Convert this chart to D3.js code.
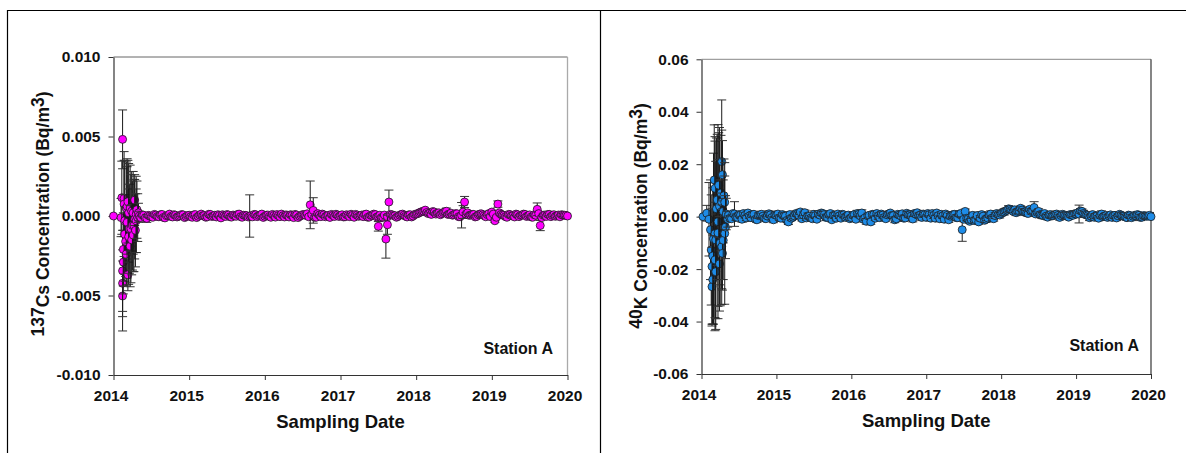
<!DOCTYPE html>
<html><head><meta charset="utf-8">
<script src="https://cdn.jsdelivr.net/npm/d3@7"></script>
<style>
body{margin:0;background:#fff}
svg{display:block}
text{font-family:Arial,"Liberation Sans",Helvetica,sans-serif;font-weight:bold;fill:#111}
</style>
</head><body>
<svg id="chart" width="1191" height="453"></svg>
<script>
// ---------- tick labels ----------
const yearTicks = [2014, 2015, 2016, 2017, 2018, 2019, 2020];
const csTicks = [0.010, 0.005, 0, -0.005, -0.010];
const csTickLabels = ["0.010", "0.005", "0.000", "-0.005", "-0.010"];
const kTicks = [0.06, 0.04, 0.02, 0, -0.02, -0.04, -0.06];
const kTickLabels = ["0.06", "0.04", "0.02", "0.00", "-0.02", "-0.04", "-0.06"];
const stationLabel = "Station A";
const xTitle = "Sampling Date";

// ---------- 137Cs : intensive sampling early 2014 ----------
const csEarlyDates = [2014.00,2014.10,2014.11,2014.12,2014.12,2014.12,2014.12,2014.13,2014.13,2014.14,
  2014.14,2014.15,2014.15,2014.16,2014.17,2014.17,2014.18,2014.18,2014.19,2014.19,
  2014.20,2014.20,2014.21,2014.22,2014.22,2014.23,2014.24,2014.24,2014.25,2014.26,
  2014.26,2014.27,2014.28,2014.28,2014.29,2014.30,2014.30,2014.31,2014.32,2014.33,2014.34];
const csEarly = [0e-5,-10e-5,115e-5,482e-5,-503e-5,-423e-5,-345e-5,-290e-5,-210e-5,110e-5,
  75e-5,-30e-5,-115e-5,-160e-5,50e-5,-240e-5,60e-5,-40e-5,-370e-5,90e-5,
  -130e-5,20e-5,-80e-5,50e-5,-190e-5,-80e-5,30e-5,-150e-5,-60e-5,20e-5,
  -120e-5,-60e-5,100e-5,-20e-5,-90e-5,10e-5,-30e-5,40e-5,-10e-5,20e-5,0e-5];
const csEarlyErr = [0e-5,120e-5,230e-5,185e-5,220e-5,210e-5,255e-5,200e-5,230e-5,240e-5,
  330e-5,380e-5,250e-5,220e-5,290e-5,200e-5,300e-5,350e-5,100e-5,260e-5,
  300e-5,310e-5,280e-5,270e-5,255e-5,340e-5,250e-5,220e-5,280e-5,260e-5,
  230e-5,290e-5,160e-5,250e-5,230e-5,240e-5,200e-5,180e-5,150e-5,60e-5,30e-5];

// ---------- 40K : intensive sampling early 2014 ----------
const kEarlyDates = [2014.02,2014.07,2014.10,2014.12,2014.13,2014.14,2014.14,2014.15,2014.15,2014.16,
  2014.17,2014.18,2014.18,2014.18,2014.19,2014.19,2014.20,2014.21,2014.22,2014.22,
  2014.23,2014.24,2014.24,2014.25,2014.26,2014.27,2014.27,2014.27,2014.28,2014.28,
  2014.29,2014.29,2014.30,2014.31,2014.31,2014.32,2014.33,2014.35];
const kEarly = [0e-3,1.3e-3,-1e-3,-5e-3,-12.7e-3,-19e-3,-26.7e-3,-24e-3,-15e-3,-8.4e-3,
  14e-3,-6.5e-3,10.8e-3,-16.5e-3,-8.9e-3,-21e-3,3e-3,6.4e-3,-1.9e-3,-6.2e-3,
  12e-3,-18e-3,4e-3,-10e-3,9e-3,21e-3,5.5e-3,-11.5e-3,16e-3,-14e-3,
  2e-3,-9e-3,8e-3,-6.4e-3,5.5e-3,-4e-3,1e-3,-1e-3];
const kEarlyErr = [0e-3,3e-3,14e-3,19e-3,21e-3,22e-3,15e-3,17e-3,26e-3,32.6e-3,
  21e-3,37e-3,18e-3,22e-3,30e-3,22e-3,27e-3,25e-3,37e-3,28e-3,
  20e-3,18e-3,30e-3,24e-3,22e-3,12e-3,39e-3,16e-3,13e-3,14e-3,
  12e-3,15e-3,14e-3,27e-3,10e-3,12e-3,6e-3,3e-3];

// ---------- routine weekly sampling, set A (shared dates) ----------
const routineDatesA = [2014.36,2014.40,2014.44,2014.48,2014.52,2014.56,2014.60,2014.64,2014.68,2014.72,2014.76,2014.80,2014.84,2014.88,2014.92,2014.96,
  2015.00,2015.04,2015.08,2015.12,2015.16,2015.20,2015.24,2015.28,2015.32,2015.36,2015.40,2015.44,2015.48,2015.52,2015.56,2015.60,2015.64,2015.68,2015.72,2015.76,2015.80,2015.84,2015.88,2015.92,2015.96,
  2016.00,2016.04,2016.08,2016.12,2016.16,2016.20,2016.24,2016.28,2016.32,2016.36,2016.40,2016.44,2016.48,2016.52,2016.56,2016.60,2016.64,2016.68,2016.72,2016.76,2016.80,2016.84,2016.88,2016.92,2016.96,
  2017.00,2017.04,2017.08,2017.12,2017.16,2017.20,2017.24,2017.28,2017.32,2017.36,2017.40,2017.44,2017.48,2017.52,2017.56,2017.60,2017.64,2017.68,2017.72,2017.76,2017.80,2017.84,2017.88,2017.92,2017.96,
  2018.00,2018.04,2018.08,2018.12,2018.16,2018.20,2018.24,2018.28,2018.32,2018.36,2018.40,2018.44,2018.48,2018.52,2018.56,2018.60,2018.64,2018.68,2018.72,2018.76,2018.80,2018.84,2018.88,2018.92,2018.96,
  2019.00,2019.04,2019.08,2019.12,2019.16,2019.20,2019.24,2019.28,2019.32,2019.36,2019.40,2019.44,2019.48,2019.52,2019.56,2019.60,2019.64,2019.68,2019.72,2019.76,2019.80,2019.84,2019.88,2019.92,2019.96,2020.00];

// ---------- routine weekly sampling, set B (shared dates) ----------
const routineDatesB = [2014.38,2014.42,2014.46,2014.50,2014.54,2014.58,2014.62,2014.66,2014.70,2014.74,2014.78,2014.82,2014.86,2014.90,2014.94,2014.98,
  2015.02,2015.06,2015.10,2015.14,2015.18,2015.22,2015.26,2015.30,2015.34,2015.38,2015.42,2015.46,2015.50,2015.54,2015.58,2015.62,2015.66,2015.70,2015.74,2015.78,2015.82,2015.86,2015.90,2015.94,2015.98,
  2016.02,2016.06,2016.10,2016.14,2016.18,2016.22,2016.26,2016.30,2016.34,2016.38,2016.42,2016.46,2016.50,2016.54,2016.58,2016.62,2016.66,2016.70,2016.74,2016.78,2016.82,2016.86,2016.90,2016.94,2016.98,
  2017.02,2017.06,2017.10,2017.14,2017.18,2017.22,2017.26,2017.30,2017.34,2017.38,2017.42,2017.46,2017.50,2017.54,2017.58,2017.62,2017.66,2017.70,2017.74,2017.78,2017.82,2017.86,2017.90,2017.94,2017.98,
  2018.02,2018.06,2018.10,2018.14,2018.18,2018.22,2018.26,2018.30,2018.34,2018.38,2018.42,2018.46,2018.50,2018.54,2018.58,2018.62,2018.66,2018.70,2018.74,2018.78,2018.82,2018.86,2018.90,2018.94,2018.98,
  2019.02,2019.06,2019.10,2019.14,2019.18,2019.22,2019.26,2019.30,2019.34,2019.38,2019.42,2019.46,2019.50,2019.54,2019.58,2019.62,2019.66,2019.70,2019.74,2019.78,2019.82,2019.86,2019.90,2019.94,2019.98];

const csRoutineA = [-10e-5,5e-5,-15e-5,0e-5,-8e-5,6e-5,-5e-5,10e-5,-12e-5,4e-5,-3e-5,8e-5,-6e-5,2e-5,7e-5,-4e-5,
  5e-5,-8e-5,9e-5,-2e-5,12e-5,3e-5,-5e-5,10e-5,0e-5,-6e-5,4e-5,8e-5,-3e-5,6e-5,-7e-5,3e-5,10e-5,-4e-5,5e-5,2e-5,0e-5,-5e-5,8e-5,3e-5,12e-5,
  -2e-5,6e-5,-8e-5,4e-5,9e-5,-4e-5,2e-5,7e-5,-6e-5,5e-5,10e-5,-10e-5,3e-5,8e-5,14e-5,70e-5,35e-5,-8e-5,6e-5,12e-5,-5e-5,4e-5,10e-5,-3e-5,6e-5,
  2e-5,-6e-5,8e-5,-4e-5,5e-5,10e-5,-2e-5,6e-5,9e-5,-8e-5,4e-5,12e-5,-6e-5,5e-5,-8e-5,-145e-5,88e-5,8e-5,2e-5,-3e-5,9e-5,5e-5,-6e-5,8e-5,0e-5,
  12e-5,20e-5,28e-5,37e-5,15e-5,10e-5,25e-5,18e-5,8e-5,22e-5,30e-5,12e-5,5e-5,15e-5,-4e-5,5e-5,88e-5,20e-5,6e-5,10e-5,-3e-5,12e-5,8e-5,-5e-5,15e-5,
  25e-5,-30e-5,75e-5,10e-5,4e-5,-8e-5,9e-5,3e-5,12e-5,-4e-5,6e-5,10e-5,2e-5,-6e-5,8e-5,42e-5,-60e-5,5e-5,-3e-5,10e-5,4e-5,-2e-5,6e-5,8e-5,5e-5,0e-5];
const csRoutineErrA = [8e-5,10e-5,25e-5,9e-5,12e-5,8e-5,10e-5,9e-5,11e-5,8e-5,10e-5,12e-5,9e-5,8e-5,10e-5,11e-5,
  9e-5,10e-5,8e-5,12e-5,10e-5,9e-5,11e-5,8e-5,10e-5,12e-5,9e-5,10e-5,8e-5,11e-5,10e-5,9e-5,12e-5,8e-5,10e-5,9e-5,133e-5,10e-5,8e-5,11e-5,9e-5,
  10e-5,9e-5,12e-5,8e-5,10e-5,11e-5,9e-5,10e-5,8e-5,12e-5,9e-5,10e-5,11e-5,8e-5,10e-5,150e-5,80e-5,9e-5,10e-5,12e-5,8e-5,11e-5,9e-5,10e-5,12e-5,
  9e-5,10e-5,8e-5,11e-5,10e-5,9e-5,12e-5,8e-5,10e-5,9e-5,11e-5,10e-5,12e-5,9e-5,10e-5,120e-5,75e-5,9e-5,10e-5,8e-5,12e-5,9e-5,10e-5,11e-5,8e-5,
  10e-5,12e-5,9e-5,10e-5,8e-5,11e-5,10e-5,12e-5,9e-5,10e-5,20e-5,9e-5,10e-5,12e-5,8e-5,80e-5,35e-5,10e-5,9e-5,11e-5,8e-5,10e-5,12e-5,9e-5,10e-5,
  10e-5,10e-5,20e-5,9e-5,11e-5,8e-5,10e-5,12e-5,9e-5,10e-5,8e-5,11e-5,9e-5,10e-5,12e-5,40e-5,32e-5,9e-5,10e-5,8e-5,11e-5,9e-5,10e-5,12e-5,8e-5,0e-5];
const csRoutineB = [6e-5,-12e-5,4e-5,-5e-5,10e-5,-3e-5,8e-5,-9e-5,2e-5,12e-5,-6e-5,5e-5,-2e-5,9e-5,-10e-5,3e-5,
  -4e-5,7e-5,-10e-5,6e-5,2e-5,-8e-5,11e-5,-3e-5,5e-5,8e-5,-12e-5,3e-5,9e-5,-5e-5,6e-5,-2e-5,12e-5,-8e-5,4e-5,-6e-5,2e-5,10e-5,-4e-5,7e-5,-9e-5,
  5e-5,-3e-5,10e-5,-7e-5,3e-5,12e-5,-6e-5,4e-5,8e-5,-10e-5,6e-5,-2e-5,9e-5,4e-5,-5e-5,10e-5,-8e-5,15e-5,-4e-5,7e-5,2e-5,-9e-5,5e-5,11e-5,-3e-5,
  8e-5,-5e-5,3e-5,11e-5,-8e-5,6e-5,2e-5,-4e-5,12e-5,-7e-5,5e-5,9e-5,-3e-5,-10e-5,6e-5,-4e-5,10e-5,3e-5,-8e-5,5e-5,12e-5,-2e-5,7e-5,-6e-5,10e-5,
  15e-5,25e-5,30e-5,22e-5,18e-5,28e-5,12e-5,20e-5,15e-5,26e-5,10e-5,18e-5,8e-5,14e-5,-5e-5,25e-5,12e-5,4e-5,10e-5,-6e-5,8e-5,14e-5,2e-5,9e-5,-4e-5,
  12e-5,-8e-5,20e-5,6e-5,-4e-5,10e-5,2e-5,-6e-5,8e-5,4e-5,12e-5,-3e-5,7e-5,-8e-5,5e-5,15e-5,-10e-5,6e-5,10e-5,-4e-5,8e-5,2e-5,-5e-5,6e-5,4e-5];
const csRoutineErrB = [10e-5,9e-5,12e-5,8e-5,11e-5,10e-5,9e-5,13e-5,8e-5,10e-5,12e-5,9e-5,10e-5,11e-5,8e-5,10e-5,
  9e-5,12e-5,10e-5,8e-5,11e-5,9e-5,10e-5,12e-5,8e-5,10e-5,11e-5,9e-5,13e-5,8e-5,10e-5,9e-5,12e-5,10e-5,8e-5,11e-5,9e-5,10e-5,12e-5,8e-5,10e-5,
  11e-5,9e-5,10e-5,12e-5,8e-5,10e-5,9e-5,11e-5,10e-5,8e-5,12e-5,9e-5,10e-5,8e-5,11e-5,10e-5,9e-5,12e-5,8e-5,10e-5,11e-5,9e-5,10e-5,12e-5,8e-5,
  10e-5,9e-5,12e-5,8e-5,11e-5,10e-5,9e-5,10e-5,12e-5,8e-5,10e-5,11e-5,9e-5,10e-5,8e-5,12e-5,10e-5,9e-5,11e-5,8e-5,10e-5,12e-5,9e-5,10e-5,11e-5,
  9e-5,10e-5,12e-5,8e-5,11e-5,10e-5,9e-5,12e-5,10e-5,8e-5,11e-5,9e-5,10e-5,12e-5,8e-5,40e-5,10e-5,9e-5,11e-5,10e-5,8e-5,12e-5,9e-5,10e-5,11e-5,
  10e-5,9e-5,12e-5,8e-5,11e-5,10e-5,9e-5,10e-5,12e-5,8e-5,10e-5,11e-5,9e-5,10e-5,8e-5,12e-5,10e-5,9e-5,11e-5,8e-5,10e-5,12e-5,9e-5,10e-5,11e-5];
const csExtraDates = [2017.50, 2017.62];
const csExtra = [-65e-5, -55e-5];
const csExtraErr = [30e-5, 60e-5];

const kRoutineA = [5e-4,-8e-4,10e-4,-3e-4,6e-4,12e-4,-5e-4,3e-4,8e-4,-10e-4,4e-4,9e-4,-6e-4,2e-4,7e-4,-12e-4,
  5e-4,-4e-4,8e-4,2e-4,-20e-4,-6e-4,3e-4,10e-4,18e-4,6e-4,-5e-4,2e-4,-8e-4,4e-4,10e-4,14e-4,8e-4,-3e-4,12e-4,5e-4,-6e-4,3e-4,9e-4,-2e-4,6e-4,
  -4e-4,8e-4,12e-4,3e-4,-10e-4,-18e-4,5e-4,9e-4,-6e-4,2e-4,10e-4,-3e-4,7e-4,14e-4,4e-4,-8e-4,6e-4,11e-4,-5e-4,8e-4,3e-4,12e-4,15e-4,6e-4,10e-4,
  -3e-4,8e-4,12e-4,-6e-4,4e-4,9e-4,-10e-4,5e-4,2e-4,8e-4,-4e-4,10e-4,-50e-4,20e-4,-8e-4,-12e-4,-15e-4,4e-4,-6e-4,2e-4,-10e-4,6e-4,-5e-4,4e-4,8e-4,
  12e-4,18e-4,25e-4,28e-4,20e-4,15e-4,22e-4,25e-4,18e-4,12e-4,20e-4,35e-4,16e-4,8e-4,4e-4,2e-4,6e-4,3e-4,8e-4,5e-4,4e-4,6e-4,2e-4,8e-4,5e-4,
  10e-4,10e-4,20e-4,8e-4,4e-4,2e-4,-2e-4,3e-4,5e-4,0e-4,4e-4,2e-4,-3e-4,5e-4,3e-4,6e-4,2e-4,-4e-4,4e-4,1e-4,3e-4,5e-4,-2e-4,3e-4,2e-4,0e-4];
const kRoutineErrA = [8e-4,10e-4,47e-4,9e-4,12e-4,8e-4,10e-4,9e-4,11e-4,8e-4,10e-4,12e-4,9e-4,8e-4,10e-4,11e-4,
  9e-4,10e-4,8e-4,12e-4,10e-4,9e-4,11e-4,8e-4,10e-4,12e-4,9e-4,10e-4,8e-4,11e-4,10e-4,9e-4,12e-4,8e-4,10e-4,9e-4,10e-4,10e-4,8e-4,11e-4,9e-4,
  10e-4,9e-4,12e-4,8e-4,10e-4,11e-4,9e-4,10e-4,8e-4,12e-4,9e-4,10e-4,11e-4,8e-4,10e-4,9e-4,10e-4,9e-4,10e-4,12e-4,8e-4,11e-4,9e-4,10e-4,12e-4,
  9e-4,10e-4,8e-4,11e-4,10e-4,9e-4,12e-4,8e-4,10e-4,9e-4,11e-4,10e-4,44e-4,9e-4,10e-4,12e-4,10e-4,9e-4,10e-4,8e-4,12e-4,9e-4,10e-4,11e-4,8e-4,
  10e-4,12e-4,9e-4,10e-4,8e-4,11e-4,10e-4,12e-4,9e-4,10e-4,10e-4,22e-4,9e-4,10e-4,12e-4,8e-4,10e-4,9e-4,11e-4,10e-4,8e-4,10e-4,12e-4,9e-4,10e-4,
  10e-4,34e-4,9e-4,11e-4,8e-4,10e-4,12e-4,9e-4,10e-4,8e-4,11e-4,9e-4,10e-4,12e-4,8e-4,9e-4,10e-4,9e-4,10e-4,8e-4,11e-4,9e-4,10e-4,12e-4,8e-4,0e-4];
const kRoutineB = [-6e-4,12e-4,-2e-4,8e-4,-10e-4,5e-4,14e-4,-4e-4,9e-4,-12e-4,6e-4,2e-4,-8e-4,11e-4,-3e-4,7e-4,
  10e-4,-6e-4,4e-4,-14e-4,8e-4,-2e-4,12e-4,5e-4,-8e-4,15e-4,3e-4,-5e-4,9e-4,-10e-4,6e-4,12e-4,-3e-4,8e-4,-12e-4,4e-4,10e-4,-6e-4,7e-4,2e-4,-8e-4,
  6e-4,-10e-4,9e-4,14e-4,-5e-4,3e-4,-20e-4,8e-4,12e-4,-4e-4,6e-4,-8e-4,11e-4,5e-4,-12e-4,9e-4,3e-4,-6e-4,13e-4,7e-4,-9e-4,10e-4,4e-4,-3e-4,8e-4,
  12e-4,-6e-4,5e-4,14e-4,-8e-4,3e-4,10e-4,-12e-4,6e-4,9e-4,-4e-4,12e-4,-10e-4,-6e-4,-18e-4,5e-4,-12e-4,-20e-4,8e-4,-14e-4,-5e-4,10e-4,-8e-4,12e-4,6e-4,
  16e-4,22e-4,30e-4,24e-4,26e-4,20e-4,32e-4,18e-4,14e-4,28e-4,22e-4,10e-4,20e-4,6e-4,12e-4,-2e-4,8e-4,4e-4,10e-4,-3e-4,9e-4,5e-4,-2e-4,7e-4,11e-4,
  14e-4,22e-4,12e-4,6e-4,-4e-4,8e-4,3e-4,-6e-4,10e-4,2e-4,-3e-4,7e-4,4e-4,-5e-4,9e-4,3e-4,-2e-4,6e-4,-4e-4,5e-4,8e-4,-3e-4,4e-4,2e-4,5e-4];
const kRoutineErrB = [10e-4,9e-4,12e-4,8e-4,11e-4,10e-4,9e-4,13e-4,8e-4,10e-4,12e-4,9e-4,10e-4,11e-4,8e-4,10e-4,
  9e-4,12e-4,10e-4,8e-4,11e-4,9e-4,10e-4,12e-4,8e-4,10e-4,11e-4,9e-4,13e-4,8e-4,10e-4,9e-4,12e-4,10e-4,8e-4,11e-4,9e-4,10e-4,12e-4,8e-4,10e-4,
  11e-4,9e-4,10e-4,12e-4,8e-4,10e-4,9e-4,11e-4,10e-4,8e-4,12e-4,9e-4,10e-4,8e-4,11e-4,10e-4,9e-4,12e-4,8e-4,10e-4,11e-4,9e-4,10e-4,12e-4,8e-4,
  10e-4,9e-4,12e-4,8e-4,11e-4,10e-4,9e-4,10e-4,12e-4,8e-4,10e-4,11e-4,9e-4,10e-4,8e-4,12e-4,10e-4,9e-4,11e-4,8e-4,10e-4,12e-4,9e-4,10e-4,11e-4,
  9e-4,10e-4,12e-4,8e-4,11e-4,10e-4,9e-4,12e-4,10e-4,8e-4,11e-4,9e-4,10e-4,12e-4,8e-4,10e-4,10e-4,9e-4,11e-4,10e-4,8e-4,12e-4,9e-4,10e-4,11e-4,
  10e-4,9e-4,12e-4,8e-4,11e-4,10e-4,9e-4,10e-4,12e-4,8e-4,10e-4,11e-4,9e-4,10e-4,8e-4,12e-4,10e-4,9e-4,11e-4,8e-4,10e-4,12e-4,9e-4,10e-4,11e-4];

// ---------- drawing ----------
const svg = d3.select("#chart");
const FONT = 'Arial, "Liberation Sans", Helvetica, sans-serif';

svg.append("line").attr("x1",7).attr("x2",1186).attr("y1",10.5).attr("y2",10.5).attr("stroke","#000").attr("stroke-width",1.2);
svg.append("line").attr("x1",7.5).attr("x2",7.5).attr("y1",10).attr("y2",453).attr("stroke","#000").attr("stroke-width",1.2);
svg.append("line").attr("x1",600.5).attr("x2",600.5).attr("y1",10).attr("y2",453).attr("stroke","#000").attr("stroke-width",1.2);

function zip(d, v, e) { return d.map((t, i) => ({ t: t, v: v[i], e: e[i] })); }

function panel(o) {
  const x = d3.scaleLinear().domain([2014, 2020]).range(o.xr);
  const y = d3.scaleLinear().domain(o.yd).range(o.yr);
  const g = svg.append("g");

  g.append("line").attr("x1", x(2014)).attr("x2", x(2020)).attr("y1", y(o.yd[1])).attr("y2", y(o.yd[1]))
    .attr("stroke", o.topColor).attr("stroke-width", 1);
  g.append("line").attr("x1", x(2020)).attr("x2", x(2020)).attr("y1", y(o.yd[1])).attr("y2", y(o.yd[0]))
    .attr("stroke", o.rightColor).attr("stroke-width", 1.3);

  const ya = d3.axisLeft(y).tickValues(o.yTicks).tickFormat((d, i) => o.yLabels[i])
    .tickSize(5).tickSizeOuter(0).tickPadding(8);
  const yg = g.append("g").attr("transform", `translate(${x(2014)},0)`).call(ya);
  const xa = d3.axisBottom(x).tickValues(yearTicks).tickFormat(d3.format("d"))
    .tickSize(5).tickSizeOuter(0).tickPadding(10);
  const xg = g.append("g").attr("transform", `translate(0,${y(o.yd[0])})`).call(xa);
  [yg, xg].forEach(a => {
    a.attr("font-family", FONT).attr("font-size", 15.5).attr("font-weight", "bold");
    a.select(".domain").attr("stroke", "#333").attr("stroke-width", 1.2);
    a.selectAll(".tick line").attr("stroke", "#333");
    a.selectAll(".tick text").attr("fill", "#111");
  });
  xg.selectAll(".tick text").attr("dx", "-3");

  const pts = o.data.slice().sort((a, b) => a.t - b.t);
  const pg = g.append("g");
  const cw = 4.5;
  pts.forEach(p => {
    const cx = x(p.t);
    if (p.e > 0) {
      const y1 = y(p.v + p.e), y2 = y(p.v - p.e);
      pg.append("line").attr("x1", cx).attr("x2", cx).attr("y1", y1).attr("y2", y2)
        .attr("stroke", "#1a1a1a").attr("stroke-width", 1);
      pg.append("line").attr("x1", cx - cw).attr("x2", cx + cw).attr("y1", y1).attr("y2", y1)
        .attr("stroke", "#333").attr("stroke-width", 1);
      pg.append("line").attr("x1", cx - cw).attr("x2", cx + cw).attr("y1", y2).attr("y2", y2)
        .attr("stroke", "#333").attr("stroke-width", 1);
    }
    pg.append("circle").attr("cx", cx).attr("cy", y(p.v)).attr("r", 4)
      .attr("fill", o.color).attr("stroke", "#1a1a1a").attr("stroke-width", 0.8);
  });

  g.append("text").attr("x", o.stationX).attr("y", o.stationY).attr("text-anchor", "end")
    .attr("font-size", 16).text(stationLabel);

  g.append("text").attr("x", (o.xr[0] + o.xr[1]) / 2).attr("y", o.xTitleY).attr("text-anchor", "middle")
    .attr("font-size", 18.5).text(xTitle);

  const t = g.append("text").attr("transform", `translate(${o.yTitleX},${o.yTitleY}) rotate(-90)`)
    .attr("text-anchor", "middle").attr("font-size", 17.5);
  t.append("tspan").attr("dy", -5).text(o.isotope);
  t.append("tspan").attr("dy", 5).text(o.element + " Concentration (Bq/m");
  t.append("tspan").attr("dy", -5).text("3");
  t.append("tspan").attr("dy", 5).text(")");
}

panel({
  xr: [113.5, 567.5], yd: [-0.010, 0.010], yr: [375, 57],
  yTicks: csTicks, yLabels: csTickLabels,
  topColor: "#666", rightColor: "#aaa", color: "#ff00ff",
  data: zip(csEarlyDates, csEarly, csEarlyErr)
    .concat(zip(routineDatesA, csRoutineA, csRoutineErrA))
    .concat(zip(routineDatesB, csRoutineB, csRoutineErrB))
    .concat(zip(csExtraDates, csExtra, csExtraErr)),
  stationX: 553, stationY: 353.5, xTitleY: 427.5,
  yTitleX: 49, yTitleY: 214, isotope: "137", element: "Cs"
});

panel({
  xr: [701.5, 1151], yd: [-0.06, 0.06], yr: [374, 59.3],
  yTicks: kTicks, yLabels: kTickLabels,
  topColor: "#888", rightColor: "#444", color: "#1e8ce8",
  data: zip(kEarlyDates, kEarly, kEarlyErr)
    .concat(zip(routineDatesA, kRoutineA, kRoutineErrA))
    .concat(zip(routineDatesB, kRoutineB, kRoutineErrB)),
  stationX: 1139, stationY: 350.5, xTitleY: 426.5,
  yTitleX: 647, yTitleY: 216, isotope: "40", element: "K"
});
</script>
</body></html>
